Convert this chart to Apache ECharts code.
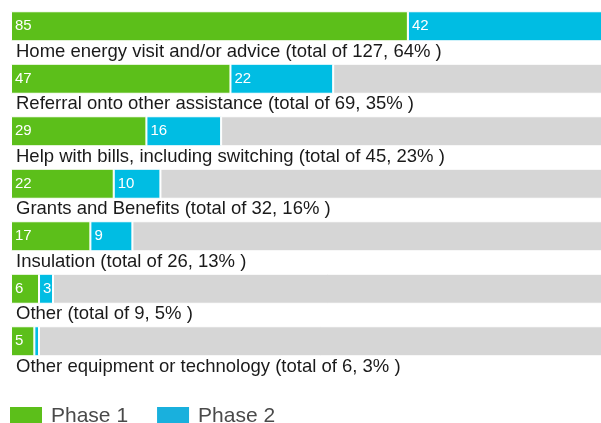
<!DOCTYPE html>
<html><head><meta charset="utf-8">
<script src="https://cdn.jsdelivr.net/npm/echarts@6/dist/echarts.min.js"></script>
<style>html,body{margin:0;padding:0;background:#fff}#c{width:601px;height:423px}</style>
</head><body><div id="c"></div>
<script>
const categories = [
  "Home energy visit and/or advice (total of 127, 64% )",
  "Referral onto other assistance (total of 69, 35% )",
  "Help with bills, including switching (total of 45, 23% )",
  "Grants and Benefits (total of 32, 16% )",
  "Insulation (total of 26, 13% )",
  "Other (total of 9, 5% )",
  "Other equipment or technology (total of 6, 3% )"
];
const phase1 = [85, 47, 29, 22, 17, 6, 5];
const phase2 = [42, 22, 16, 10, 9, 3, 1];
const axisMax = 127;
const remainder = phase1.map((v, i) => axisMax - v - phase2[i]);

const GREEN = '#5cbf1a', BLUE = '#00bde3', LEGEND_BLUE = '#19b0dd', GRAY = '#d6d6d6';
const valueLabel = {
  show: true, position: 'insideLeft', distance: 4, color: '#fff',
  fontFamily: 'Liberation Sans', fontSize: 15,
  formatter: p => (p.value >= 2 ? String(p.value) : '')
};
const chart = echarts.init(document.getElementById('c'), null, {renderer: 'canvas'});
chart.setOption({
  animation: false,
  grid: {left: 11, right: -3, top: 0, bottom: 55.5, containLabel: false, outerBoundsMode: 'none'},
  xAxis: {type: 'value', min: 0, max: axisMax, show: false},
  yAxis: {
    type: 'category', data: categories, inverse: true,
    axisLine: {show: false}, axisTick: {show: false},
    axisLabel: {
      inside: true, margin: 5, color: '#1a1a1a',
      align: 'left', interval: 0, showMinLabel: true, showMaxLabel: true, hideOverlap: false,
      formatter: v => '{e|}\n{t|' + v + '}',
      rich: {
        e: {fontSize: 18.5, lineHeight: 51, fontFamily: 'Liberation Sans'},
        t: {fontSize: 18.5, lineHeight: 51, fontFamily: 'Liberation Sans', color: '#1a1a1a'}
      }
    },
    z: 10
  },
  legend: {
    left: 8, top: 405, itemWidth: 34, itemHeight: 20, itemGap: 27, padding: 0,
    icon: 'rect',
    textStyle: {fontFamily: 'Liberation Sans', fontSize: 21, color: '#4a4a4a', padding: [0, 0, 0, 3]},
    data: [
      {name: 'Phase 1', itemStyle: {color: GREEN}},
      {name: 'Phase 2', itemStyle: {color: LEGEND_BLUE}}
    ]
  },
  series: [
    {name: 'Phase 1', type: 'bar', stack: 'a', data: phase1, barWidth: 30,
     itemStyle: {color: GREEN, borderColor: '#fff', borderWidth: 1}, label: valueLabel},
    {name: 'Phase 2', type: 'bar', stack: 'a', data: phase2, barWidth: 30,
     itemStyle: {color: BLUE, borderColor: '#fff', borderWidth: 1}, label: valueLabel},
    {name: 'rest', type: 'bar', stack: 'a', data: remainder, barWidth: 30,
     itemStyle: {color: GRAY, borderColor: '#fff', borderWidth: 1}, silent: true}
  ]
});
</script></body></html>
